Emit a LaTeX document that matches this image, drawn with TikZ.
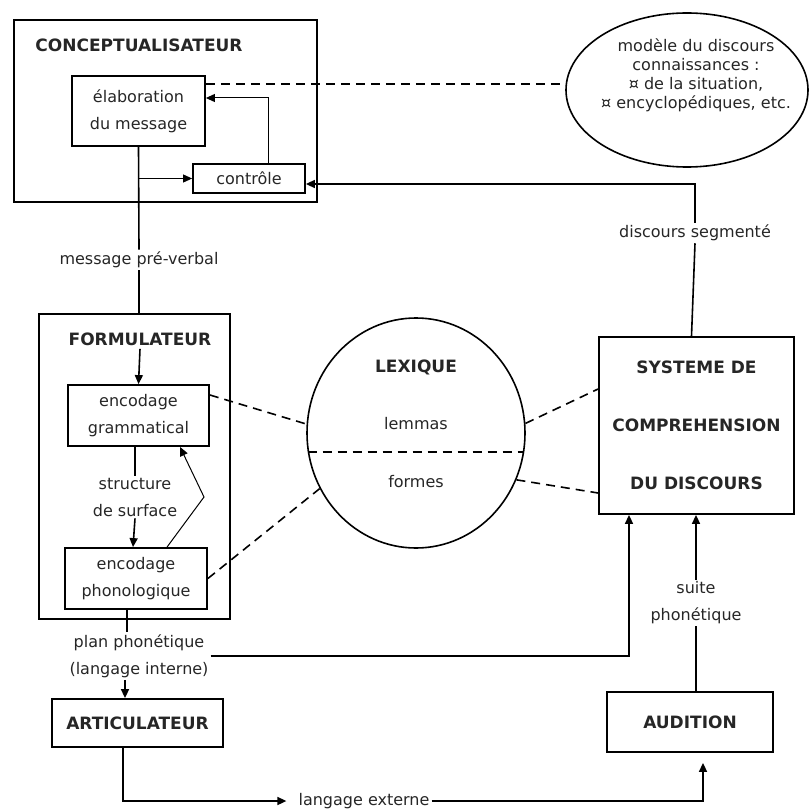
\documentclass[tikz,border=0pt]{standalone}
\usepackage{fontspec}
\setmainfont{DejaVu Sans}
\usetikzlibrary{arrows.meta,positioning,shapes.geometric}

\begin{document}
\begin{tikzpicture}[
x=1pt, y=-1pt,
txt/.style={font=\fontsize{16}{27}\selectfont, align=center, text=black!85, inner sep=2pt},
ttl/.style={font=\fontsize{17}{58}\selectfont\bfseries, align=center, text=black!85},
frame/.style={draw, line width=1.8pt, inner sep=0pt},
box/.style={draw, line width=1.8pt, inner sep=0pt, align=center, font=\fontsize{16}{27}\selectfont, text=black!85},
blob/.style={draw, ellipse, line width=1.6pt, inner sep=0pt},
arr/.style={-{Triangle[length=9pt,width=8pt]}, line width=1.6pt},
thinarr/.style={-{Triangle[length=9pt,width=8pt]}, line width=1pt},
link/.style={dash pattern=on 9pt off 6pt, line width=1.6pt}
]
\useasboundingbox (0,0) rectangle (809,810);
% conceptualisateur
\node[frame, minimum width=303pt, minimum height=182pt] (concept) at (165.5,111) {};
\node[ttl] (concepttitle) at (139,45) {CONCEPTUALISATEUR};
\node[box, minimum width=133pt, minimum height=70pt] (elab) at (138.5,111) {élaboration\\du message};
\node[box, minimum width=112pt, minimum height=29pt] (controle) at (249,178.5) {contrôle};
\node[blob, minimum width=242pt, minimum height=154pt] (modele) at (687,90) {};
\node[txt, font=\fontsize{16}{19}\selectfont] (modeletxt) at (696,75) {modèle du discours\\connaissances :\\¤ de la situation,\\¤ encyclopédiques, etc.};
\node[txt] (msg) at (139,260) {message pré-verbal};
\node[txt] (segm) at (695,233) {discours segmenté};
% formulateur
\node[frame, minimum width=191pt, minimum height=305pt] (formul) at (134.5,466.5) {};
\node[ttl] (formultitle) at (140,339) {FORMULATEUR};
\node[box, minimum width=141pt, minimum height=61pt] (gram) at (138.5,415.5) {encodage\\grammatical};
\node[txt] (struct) at (135,497) {structure\\de surface};
\node[box, minimum width=142pt, minimum height=61pt] (phon) at (136,578.5) {encodage\\phonologique};
\coordinate (bend) at (204,497);
% lexique
\node[blob, minimum width=218pt, minimum height=230pt] (lexique) at (416,433) {};
\node[ttl] (lextitle) at (416,367) {LEXIQUE};
\node[txt] (lemmas) at (416,424) {lemmas};
\node[txt] (formes) at (416,482) {formes};
% comprehension
\node[box, minimum width=195pt, minimum height=177pt, font=\fontsize{17}{58}\selectfont\bfseries] (systeme) at (696.5,425.5) {SYSTEME DE\\COMPREHENSION\\DU DISCOURS};
\node[txt] (suite) at (696,603) {suite\\phonétique};
\node[txt] (plan) at (139,656) {plan phonétique\\(langage interne)};
\node[box, minimum width=171pt, minimum height=48pt, font=\fontsize{17}{20}\selectfont\bfseries] (artic) at (137.5,723) {ARTICULATEUR};
\node[box, minimum width=166pt, minimum height=60pt, font=\fontsize{17}{20}\selectfont\bfseries] (audition) at (690,722) {AUDITION};
\node[txt] (externe) at (364,801) {langage externe};

% liens
\draw[link] ([yshift=27pt]elab.east) -- ([yshift=6pt]modele.west);
\draw[thinarr] ([xshift=19pt]controle.north) |- ([yshift=13pt]elab.east);
\draw[line width=1.6pt] (elab.south) -- (msg.north);
\draw[line width=1.6pt] (msg.south) -- (msg.south |- formul.north);
\draw[thinarr] (elab.south |- controle.west) -- (controle.west);
\draw[arr] (segm.north) |- ([yshift=-5.5pt]controle.east);
\draw[line width=1.6pt] (segm.south) -- ([xshift=-5pt]systeme.north);
\draw[arr] (formultitle.south) -- (gram.north);
\draw[line width=1.6pt] ([xshift=-3.5pt]gram.south) -- (struct.north);
\draw[arr] (struct.south) -- ([xshift=-3pt]phon.north);
\draw[thinarr] ([xshift=31pt]phon.north) -- (bend) -- ([xshift=41.5pt]gram.south);
\draw[link] ([yshift=20.5pt]gram.east) -- ([yshift=9pt]lexique.west);
\draw[link] (phon.east) -- (lexique.210);
\draw[link] (lexique.190) -- (lexique.350);
\draw[link] (lexique.5) -- ([yshift=36.5pt]systeme.west);
\draw[link] (lexique.335) -- ([yshift=-67.5pt]systeme.west);
\draw[line width=1.6pt] ([xshift=-9pt]phon.south) -- ([xshift=-12pt]plan.north);
\draw[arr] ([xshift=-14pt]plan.south) -- ([xshift=-12.5pt]artic.north);
\draw[arr] (plan.east) -| ([xshift=-67.5pt]systeme.south);
\draw[arr] (suite.north) -- (suite.north |- systeme.south);
\draw[line width=1.6pt] (suite.south) -- (suite.south |- audition.north);
\draw[arr, shorten >=10pt] ([xshift=-14.5pt]artic.south) |- (externe.west);
\draw[arr, shorten >=10pt] (externe.east) -| ([xshift=13pt]audition.south);
\end{tikzpicture}
\end{document}
